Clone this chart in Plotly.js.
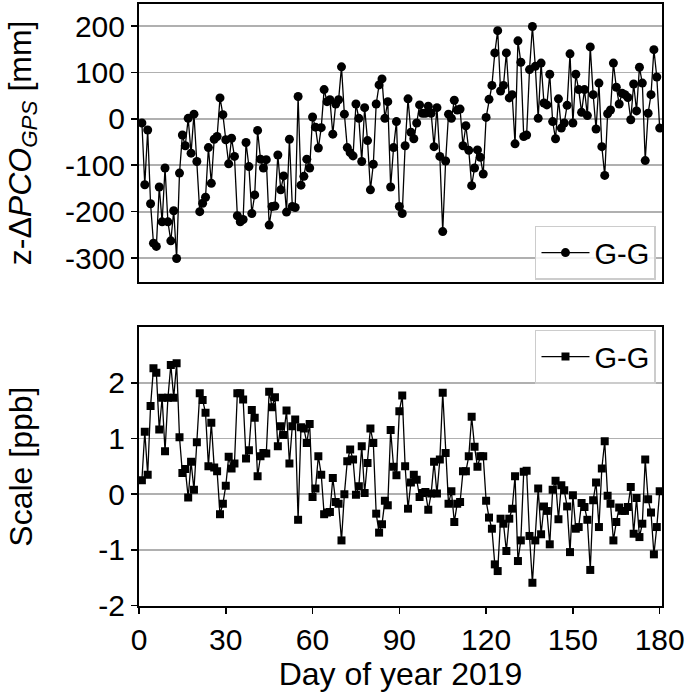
<!DOCTYPE html>
<html>
<head>
<meta charset="utf-8">
<script src="https://cdn.plot.ly/plotly-3.0.1.min.js"></script>
<style>html,body{margin:0;padding:0;background:#fff;}#chart{width:685px;height:700px;}</style>
</head>
<body>
<div id="chart"></div>
<script>
// Day of year 2019 (1..180)
const days = Array.from({length: 180}, (_, i) => i + 1);

// z-ΔPCO_GPS [mm], G-G
const pcoValues = [
  -9, -142, -24, -183, -268, -275, -147, -222, -106, -222,
  -263, -198, -301, -117, -35, -58, 1, -74, 10, -92,
  -200, -182, -169, -62, -139, -44, -38, 45, 9, -45,
  -97, -42, -81, -209, -222, -217, -51, -103, -204, -164,
  -25, -87, -106, -88, -229, -189, -188, -78, -153, -123,
  -201, -44, -189, -191, 48, -143, -124, -87, -106, 4,
  -18, -63, -19, 63, 37, 41, -33, 32, 41, 112,
  10, -62, -73, -80, 32, 1, -92, 24, -47, -153,
  -98, 32, 73, 86, 1, 37, -147, -62, -6, -189,
  -204, -58, 43, -29, -43, -9, 30, 12, 12, 27,
  12, -60, 24, -81, -243, -91, 10, 1, 40, 19,
  21, -58, -15, -68, -144, -106, -67, -83, -119, 3,
  42, 72, 142, 190, 60, 72, 142, 45, 52, -54,
  168, 122, -38, -35, 106, 199, 113, 1, 120, 34,
  30, 96, -6, -43, 43, -20, -9, 29, 140, -9,
  96, 63, 14, 63, 7, 155, 52, -22, 77, -60,
  -122, 11, 19, 120, 68, 32, 55, 52, 46, -2,
  75, 17, 111, 77, -90, 12, 52, 149, 90, -20
];

// Scale [ppb], G-G
const scaleValues = [
  0.25, 1.12, 0.35, 1.58, 2.26, 2.18, 1.16, 1.73, 0.77, 1.73,
  2.32, 1.73, 2.35, 1.02, 0.38, 0.45, -0.06, 0.58, 0.08, 0.93,
  1.81, 1.69, 1.46, 0.50, 1.28, 0.48, 0.41, -0.36, -0.17, 0.15,
  0.67, 0.46, 0.55, 1.81, 1.81, 1.70, 0.64, 0.79, 1.51, 1.37,
  0.32, 0.68, 0.74, 0.73, 1.84, 1.56, 1.74, 0.86, 1.22, 1.06,
  1.50, 0.55, 1.22, 1.34, -0.46, 1.20, 1.18, 0.92, 1.26, -0.05,
  0.10, 0.68, 0.35, -0.36, -0.33, -0.32, 0.29, -0.14, -0.17, -0.83,
  0.00, 0.59, 0.80, 0.62, -0.01, 0.14, 0.86, 0.02, 0.56, 1.18,
  0.92, -0.35, -0.69, -0.54, -0.12, -0.20, 1.15, 0.49, 0.34, 1.49,
  1.77, 0.50, -0.26, 0.21, 0.35, 0.26, -0.05, 0.02, 0.04, -0.28,
  0.01, 0.58, 0.01, 0.62, 1.82, 0.74, -0.17, 0.05, -0.50, -0.17,
  -0.14, 0.41, 0.41, 0.68, 1.39, 0.85, 0.49, 0.68, 0.68, -0.12,
  -0.42, -0.62, -1.26, -1.38, -0.44, -0.53, -1.02, -0.44, -0.26, 0.32,
  -1.20, -0.83, 0.40, 0.42, -0.75, -1.59, -0.83, 0.10, -0.72, -0.22,
  -0.30, -0.90, 0.08, 0.24, -0.45, 0.16, 0.07, -0.22, -1.04, -0.02,
  -0.62, -0.59, -0.16, -0.23, -0.46, -1.36, -0.11, 0.21, -0.59, 0.46,
  0.95, -0.03, -0.17, -0.83, -0.50, -0.24, -0.30, -0.30, -0.23, 0.13,
  -0.71, -0.07, -0.77, -0.53, 0.62, -0.09, -0.33, -1.08, -0.59, 0.05
];

const seriesName = 'G-G';
const xTickVals = [0, 30, 60, 90, 120, 150, 180];
const xTickText = ['0', '30', '60', '90', '120', '150', '180'];
const pcoTickVals = [-300, -200, -100, 0, 100, 200];
const pcoTickText = ['-300', '-200', '-100', '0', '100', '200'];
const scaleTickVals = [-2, -1, 0, 1, 2];
const scaleTickText = ['-2', '-1', '0', '1', '2'];

const FONT = 'Liberation Sans, Arial, Helvetica, sans-serif';
const TICK = 30;
const LABEL = 32;

const traces = [
  {
    x: days, y: pcoValues, name: seriesName, type: 'scatter', mode: 'lines+markers',
    xaxis: 'x', yaxis: 'y', legend: 'legend',
    line: {color: '#000000', width: 1.3},
    marker: {symbol: 'circle', size: 9, color: '#000000'}
  },
  {
    x: days, y: scaleValues, name: seriesName, type: 'scatter', mode: 'lines+markers',
    xaxis: 'x2', yaxis: 'y2', legend: 'legend2',
    line: {color: '#000000', width: 1.3},
    marker: {symbol: 'square', size: 8, color: '#000000'}
  }
];

const axisCommon = {
  showline: true, mirror: true, linecolor: '#000000', linewidth: 2,
  zeroline: false, tickfont: {family: FONT, size: TICK, color: '#000'}
};

const layout = {
  width: 685, height: 700,
  margin: {l: 139, r: 23, t: 4, b: 94},
  paper_bgcolor: '#ffffff', plot_bgcolor: '#ffffff',
  font: {family: FONT, color: '#000'},
  showlegend: true,
  xaxis: Object.assign({}, axisCommon, {
    domain: [0, 1], anchor: 'y', range: [0, 180.8],
    showgrid: false, showticklabels: false, ticks: '',
    tickvals: xTickVals, ticktext: xTickText
  }),
  yaxis: Object.assign({}, axisCommon, {
    domain: [0.5387, 1], anchor: 'x', range: [-351, 247.4],
    tickvals: pcoTickVals, ticktext: pcoTickText,
    ticks: 'outside', ticklen: 6, tickwidth: 1.6, tickcolor: '#000',
    showgrid: true, gridcolor: '#b0b0b0', gridwidth: 1.8,
    title: {text: 'z-\u0394<i>PCO</i><sub><i>GPS</i></sub> [mm]', font: {family: FONT, size: LABEL, color: '#000'}, standoff: 24}
  }),
  xaxis2: Object.assign({}, axisCommon, {
    domain: [0, 1], anchor: 'y2', range: [0, 180.8],
    showgrid: false, tickvals: xTickVals, ticktext: xTickText,
    ticks: 'outside', ticklen: 6, tickwidth: 1.6, tickcolor: '#000',
    title: {text: 'Day of year 2019', font: {family: FONT, size: LABEL, color: '#000'}, standoff: 6}
  }),
  yaxis2: Object.assign({}, axisCommon, {
    domain: [0, 0.463], anchor: 'x2', range: [-2.007, 2.995],
    tickvals: scaleTickVals, ticktext: scaleTickText,
    ticks: 'outside', ticklen: 6, tickwidth: 1.6, tickcolor: '#000',
    showgrid: true, gridcolor: '#b0b0b0', gridwidth: 1.8,
    title: {text: 'Scale [ppb]', font: {family: FONT, size: LABEL, color: '#000'}, standoff: 56}
  }),
  legend: {
    x: 0.9885, y: 0.542, xanchor: 'right', yanchor: 'bottom',
    bgcolor: 'rgba(255,255,255,0.85)', bordercolor: '#cccccc', borderwidth: 1.5,
    font: {family: FONT, size: 29, color: '#000'}, itemwidth: 48
  },
  legend2: {
    x: 0.9885, y: 0.459, xanchor: 'right', yanchor: 'top',
    bgcolor: 'rgba(255,255,255,0.85)', bordercolor: '#cccccc', borderwidth: 1.5,
    font: {family: FONT, size: 29, color: '#000'}, itemwidth: 48
  }
};

Plotly.newPlot('chart', traces, layout, {displayModeBar: false, staticPlot: true});
</script>
</body>
</html>
